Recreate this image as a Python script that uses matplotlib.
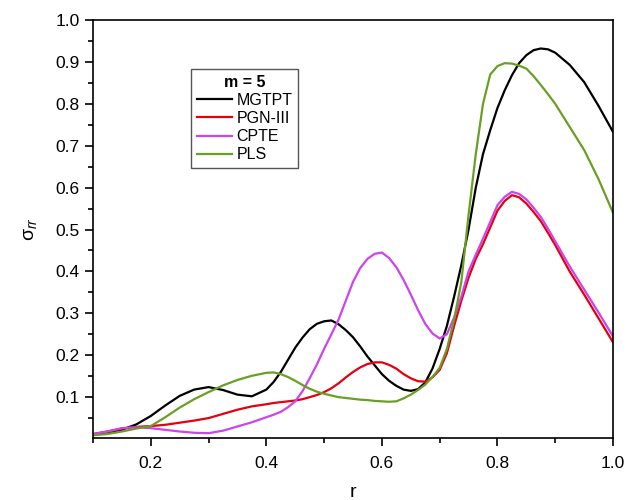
import matplotlib
matplotlib.use("Agg")
import matplotlib.pyplot as plt
from matplotlib.ticker import MultipleLocator
import numpy as np

plt.rcParams['font.family'] = ['Liberation Sans', 'DejaVu Sans']
plt.rcParams['mathtext.fontset'] = 'custom'
plt.rcParams['mathtext.rm'] = 'Liberation Sans'
plt.rcParams['mathtext.it'] = 'Liberation Sans:italic'

# values (finer steps where the curves bend a lot)
r = [0.100, 0.125, 0.150, 0.175, 0.200, 0.225, 0.250, 0.275, 0.300, 0.325,
     0.350, 0.375, 0.400, 0.4125, 0.425, 0.4375, 0.450, 0.4625, 0.475, 0.4875,
     0.500, 0.5125, 0.525, 0.5375, 0.550, 0.5625, 0.575, 0.5875, 0.600, 0.6125,
     0.625, 0.6375, 0.650, 0.6625, 0.675, 0.6875, 0.700, 0.7125, 0.725, 0.7375,
     0.750, 0.7625, 0.775, 0.7875, 0.800, 0.8125, 0.825, 0.8375, 0.850, 0.8625,
     0.875, 0.8875, 0.900, 0.925, 0.950, 0.975, 1.000]

mgtpt = [0.011, 0.016, 0.022, 0.035, 0.055, 0.080, 0.103, 0.118, 0.124, 0.117,
         0.106, 0.102, 0.118, 0.136, 0.160, 0.189, 0.218, 0.242, 0.262, 0.275,
         0.281, 0.283, 0.274, 0.260, 0.243, 0.221, 0.197, 0.176, 0.155, 0.139,
         0.127, 0.118, 0.115, 0.119, 0.135, 0.168, 0.215, 0.270, 0.340, 0.415,
         0.500, 0.600, 0.680, 0.737, 0.790, 0.832, 0.868, 0.897, 0.916, 0.928,
         0.932, 0.930, 0.922, 0.893, 0.852, 0.795, 0.733]

pgn3 = [0.012, 0.018, 0.025, 0.029, 0.031, 0.034, 0.039, 0.044, 0.050, 0.060,
        0.070, 0.078, 0.083, 0.086, 0.088, 0.090, 0.092, 0.095, 0.100, 0.105,
        0.112, 0.121, 0.133, 0.147, 0.160, 0.171, 0.179, 0.183, 0.183, 0.177,
        0.168, 0.155, 0.145, 0.138, 0.137, 0.147, 0.165, 0.205, 0.270, 0.330,
        0.385, 0.430, 0.465, 0.505, 0.545, 0.568, 0.582, 0.577, 0.562, 0.542,
        0.520, 0.492, 0.463, 0.400, 0.345, 0.288, 0.231]

cpte = [0.012, 0.018, 0.026, 0.028, 0.026, 0.022, 0.018, 0.015, 0.014, 0.020,
        0.030, 0.040, 0.052, 0.058, 0.065, 0.076, 0.090, 0.114, 0.145, 0.178,
        0.215, 0.250, 0.285, 0.330, 0.375, 0.408, 0.430, 0.442, 0.445, 0.432,
        0.410, 0.380, 0.345, 0.308, 0.275, 0.252, 0.240, 0.250, 0.290, 0.340,
        0.400, 0.440, 0.478, 0.518, 0.558, 0.578, 0.590, 0.585, 0.572, 0.552,
        0.530, 0.502, 0.472, 0.412, 0.357, 0.302, 0.245]

pls = [0.009, 0.012, 0.018, 0.025, 0.031, 0.052, 0.075, 0.095, 0.112, 0.128,
       0.141, 0.151, 0.158, 0.159, 0.155, 0.148, 0.139, 0.129, 0.120, 0.113,
       0.108, 0.104, 0.100, 0.098, 0.096, 0.094, 0.093, 0.091, 0.090, 0.089,
       0.090, 0.097, 0.106, 0.117, 0.130, 0.148, 0.170, 0.215, 0.285, 0.375,
       0.535, 0.680, 0.800, 0.870, 0.890, 0.897, 0.896, 0.891, 0.884, 0.866,
       0.845, 0.823, 0.800, 0.745, 0.690, 0.620, 0.540]

labels = ["MGTPT", "PGN-III", "CPTE", "PLS"]
colors = ["#000000", "#e3000f", "#cc44ee", "#6a9f25"]

fig = plt.figure(figsize=(6.36, 5.0), dpi=100)
ax = fig.add_axes([93 / 636, 1 - 438 / 500, 520 / 636, 418 / 500])

for ys, lab, c in zip([mgtpt, pgn3, cpte, pls], labels, colors):
    ax.plot(r, ys, color=c, lw=1.6, label=lab, solid_joinstyle='round')

ax.set_xlim(0.1, 1.0)
ax.set_ylim(0.0025, 1.0)
ax.xaxis.set_major_locator(MultipleLocator(0.2))
ax.xaxis.set_minor_locator(MultipleLocator(0.1))
ax.yaxis.set_major_locator(MultipleLocator(0.1))
ax.yaxis.set_minor_locator(MultipleLocator(0.05))
ax.tick_params(which='both', direction='out', top=False, right=False, labelsize=12.5)
ax.tick_params(which='major', length=6, width=1.2)
ax.tick_params(which='minor', length=3.5, width=1.2)
ax.tick_params(axis='x', which='major', pad=7)
for s in ax.spines.values():
    s.set_linewidth(1.2)

ax.set_xlabel("r", fontsize=14, labelpad=9)
ax.set_ylabel("σ$_{rr}$", fontsize=14, labelpad=12)

leg = ax.legend(title="m = 5", loc='upper left',
                bbox_to_anchor=(191 / 636, 1 - 69 / 500), bbox_transform=fig.transFigure,
                borderaxespad=0, fancybox=False, framealpha=1, edgecolor='#555555',
                fontsize=11.5, handlelength=2.2, handletextpad=0.3, labelspacing=0.2,
                borderpad=0.35)
leg.get_title().set_fontweight('bold')
leg.get_title().set_fontsize(11.5)
leg.get_frame().set_linewidth(1.0)

fig.savefig("out.png", dpi=100)
